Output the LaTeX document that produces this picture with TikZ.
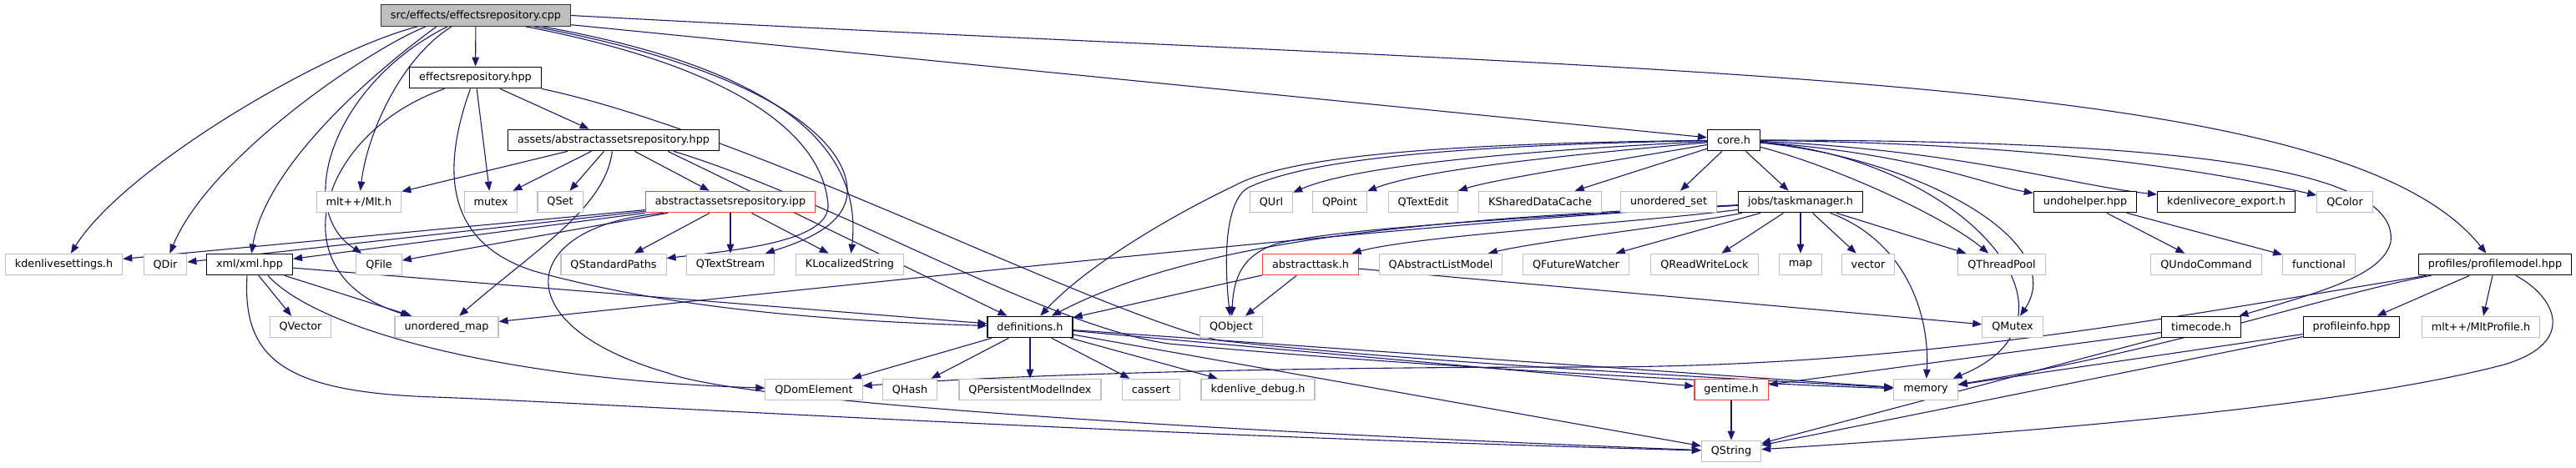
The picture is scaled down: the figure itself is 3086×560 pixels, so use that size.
\documentclass[tikz,border=0pt]{standalone}
\usepackage{fontspec}
\setmainfont{DejaVu Sans}
\usepackage{xcolor}
\usepackage{tikz}
\usetikzlibrary{arrows.meta, backgrounds}
\definecolor{edgeblue}{RGB}{25,25,112}
\definecolor{grey75}{RGB}{191,191,191}
\definecolor{truncred}{RGB}{255,64,64}

\begin{document}
\begin{tikzpicture}[
  x=1pt, y=-1pt,
  box/.style={draw, rectangle, minimum height=25.5pt, inner xsep=11.5pt,
              inner ysep=0pt, fill=white, font=\fontsize{12.8}{15}\selectfont},
  root/.style={box, fill=grey75, draw=black!80, line width=1.3pt},
  doc/.style={box, draw=black, line width=1.2pt},
  trunc/.style={box, draw=truncred, line width=1.2pt},
  leaf/.style={box, draw=grey75, line width=1.1pt},
  inc/.style={draw=edgeblue, line width=1.1pt,
              -{Triangle[length=11pt, width=8.5pt]}},
]
\useasboundingbox (0,0) rectangle (3086,560);

% Top of the include tree
\node[root] (cpp) at (570,18.5) {src/effects/effectsrepository.cpp};
\node[doc] (erhpp) at (569.5,93) {effectsrepository.hpp};
\node[doc] (aahpp) at (735,168) {assets/abstractassetsrepository.hpp};
\node[doc] (core) at (2077,168) {core.h};

% Row 3
\node[leaf] (mlt) at (430,242) {mlt++/Mlt.h};
\node[leaf] (mutex) at (588,242) {mutex};
\node[leaf] (qset) at (671,242) {QSet};
\node[trunc] (ipp) at (875,242) {abstractassetsrepository.ipp};
\node[leaf] (qurl) at (1523,242) {QUrl};
\node[leaf] (qpoint) at (1605,242) {QPoint};
\node[leaf] (qtextedit) at (1705,242) {QTextEdit};
\node[leaf] (kshared) at (1845,242) {KSharedDataCache};
\node[leaf] (uset) at (1999,242) {unordered\_set};
\node[doc] (taskmgr) at (2157,242) {jobs/taskmanager.h};
\node[doc] (undo) at (2498,242) {undohelper.hpp};
\node[doc] (kcexport) at (2667,242) {kdenlivecore\_export.h};
\node[leaf] (qcolor) at (2809,242) {QColor};

% Row 4
\node[leaf] (kset) at (76.5,317) {kdenlivesettings.h};
\node[leaf] (qdir) at (198,317) {QDir};
\node[doc] (xml) at (299,317) {xml/xml.hpp};
\node[leaf] (qfile) at (454,317) {QFile};
\node[leaf] (qstdpaths) at (735,317) {QStandardPaths};
\node[leaf] (qtextstream) at (875,317) {QTextStream};
\node[leaf] (klocal) at (1018,317) {KLocalizedString};
\node[trunc] (atask) at (1570,317) {abstracttask.h};
\node[leaf] (qalm) at (1726,317) {QAbstractListModel};
\node[leaf] (qfw) at (1888,317) {QFutureWatcher};
\node[leaf] (qrwl) at (2042,317) {QReadWriteLock};
\node[leaf] (map) at (2157,317) {map};
\node[leaf] (vector) at (2238,317) {vector};
\node[leaf] (qtp) at (2398,317) {QThreadPool};
\node[leaf] (qundo) at (2643,317) {QUndoCommand};
\node[leaf] (functional) at (2778,317) {functional};
\node[doc] (profmodel) at (2989,317) {profiles/profilemodel.hpp};

% Row 5
\node[leaf] (qvector) at (360,392) {QVector};
\node[leaf] (umap) at (535,392) {unordered\_map};
\node[doc] (defs) at (1234,392) {definitions.h};
\node[leaf] (qobject) at (1475,392) {QObject};
\node[leaf] (qmutex) at (2411,392) {QMutex};
\node[doc] (timecode) at (2637,392) {timecode.h};
\node[doc] (profinfo) at (2817,392) {profileinfo.hpp};
\node[leaf] (mltprof) at (2972,392) {mlt++/MltProfile.h};

% Row 6 and 7
\node[leaf] (qdom) at (975,467) {QDomElement};
\node[leaf] (qhash) at (1090,467) {QHash};
\node[leaf] (qpmi) at (1234,467) {QPersistentModelIndex};
\node[leaf] (cassert) at (1379,467) {cassert};
\node[leaf] (kdebug) at (1507,467) {kdenlive\_debug.h};
\node[trunc] (gentime) at (2074,467) {gentime.h};
\node[leaf] (memory) at (2307,467) {memory};
\node[leaf] (qstring) at (2074,541) {QString};

\begin{scope}[on background layer]
\fill[white] (0,0) rectangle (3086,560);

% effectsrepository.cpp
\draw[inc] (cpp) -- (erhpp);
\draw[inc] ([xshift=-70]cpp.south) .. controls (390,60) and (150,200) .. (kset);
\draw[inc] ([xshift=-60]cpp.south) .. controls (440,60) and (250,190) .. (qdir);
\draw[inc] ([xshift=-47]cpp.south) .. controls (470,70) and (320,190) .. (xml);
\draw[inc] ([xshift=-34]cpp.south) .. controls (400,100) and (350,250) .. (qfile);
\draw[inc] ([xshift=-29]cpp.south) .. controls (480,70) and (440,160) .. (mlt);
\draw[inc] (cpp) -- (core);
\draw[inc] (cpp.east) .. controls (2000,90) and (2800,80) .. (profmodel);
\draw[inc] ([xshift=80]cpp.south) .. controls (920,80) and (1035,170) .. (klocal);
\draw[inc] ([xshift=70]cpp.south) .. controls (900,80) and (1010,160) .. (1015,225)
  .. controls (1018,270) and (960,290) .. (qtextstream);
\draw[inc] ([xshift=60]cpp.south) .. controls (880,80) and (985,160) .. (992,245)
  .. controls (995,290) and (880,300) .. (qstdpaths);

% effectsrepository.hpp
\draw[inc] (erhpp) -- (aahpp);
\draw[inc] (erhpp) -- (mutex);
\draw[inc] ([xshift=-37]erhpp.south) .. controls (380,160) and (330,330) .. (umap);
\draw[inc] ([xshift=-6]erhpp.south) .. controls (530,200) and (530,290) .. (640,325)
  .. controls (800,370) and (1000,385) .. (defs);
\draw[inc] (erhpp.south east) .. controls (900,160) and (1300,370) .. (1460,408)
  .. controls (1700,435) and (2100,455) .. (memory);

% abstractassetsrepository.hpp
\draw[inc] (aahpp) -- (mlt);
\draw[inc] (aahpp) -- (mutex);
\draw[inc] (aahpp) -- (qset);
\draw[inc] (aahpp) -- (ipp);
\draw[inc] (aahpp) .. controls (725,250) and (640,300) .. (umap);
\draw[inc] ([xshift=65]aahpp.south) -- (defs);
\draw[inc] ([xshift=72]aahpp.south) .. controls (1000,240) and (1250,390) .. (1400,412)
  .. controls (1700,440) and (2100,460) .. (memory);

% abstractassetsrepository.ipp
\draw[inc] (ipp) -- (kset);
\draw[inc] (ipp) -- (qdir);
\draw[inc] (ipp) -- (xml);
\draw[inc] (ipp) -- (qfile);
\draw[inc] (ipp) -- (qstdpaths);
\draw[inc] (ipp) -- (qtextstream);
\draw[inc] (ipp) -- (klocal);
\draw[inc] ([xshift=-80]ipp.south) .. controls (620,270) and (600,390) .. (800,447)
  .. controls (880,480) and (1400,515) .. (qstring);

% xml.hpp
\draw[inc] (xml) -- (qvector);
\draw[inc] (xml) -- (umap);
\draw[inc] (xml) -- (defs);
\draw[inc] ([xshift=22]xml.south) .. controls (380,395) and (600,455) .. (qdom);
\draw[inc] ([xshift=-3]xml.south) .. controls (290,430) and (340,470) .. (520,476)
  .. controls (700,482) and (1300,520) .. (qstring);

% definitions.h
\draw[inc] (defs) -- (qdom);
\draw[inc] (defs) -- (qhash);
\draw[inc] (defs) -- (qpmi);
\draw[inc] (defs) -- (cassert);
\draw[inc] (defs) -- (kdebug);
\draw[inc] (defs) -- (gentime);
\draw[inc] (defs) -- (memory);
\draw[inc] (defs) -- (qstring);

% core.h
\draw[inc] (core) .. controls (1800,182) and (1620,200) .. (qurl);
\draw[inc] (core) .. controls (1850,188) and (1700,205) .. (qpoint);
\draw[inc] (core) .. controls (1920,195) and (1790,215) .. (qtextedit);
\draw[inc] (core) -- (kshared);
\draw[inc] (core) -- (uset);
\draw[inc] (core) -- (taskmgr);
\draw[inc] (core) .. controls (1700,172) and (1540,190) .. (1480,222)
  .. controls (1400,260) and (1300,320) .. (defs);
\draw[inc] (core) .. controls (1700,175) and (1560,195) .. (1495,225)
  .. controls (1470,240) and (1465,300) .. (qobject);
\draw[inc] (core) .. controls (2300,185) and (2380,222) .. (undo);
\draw[inc] (core) .. controls (2350,180) and (2480,222) .. (kcexport);
\draw[inc] (core) .. controls (2450,172) and (2650,205) .. (qcolor);
\draw[inc] (core) .. controls (2600,168) and (2875,200) .. (2864,290)
  .. controls (2855,330) and (2780,350) .. (timecode);
\draw[inc] (core) .. controls (2200,200) and (2330,260) .. (qtp);
\draw[inc] (core) .. controls (2300,190) and (2480,290) .. (qmutex);
\draw[inc] (core) .. controls (2350,190) and (2520,380) .. (memory);

% jobs/taskmanager.h
\draw[inc] (taskmgr) .. controls (1950,268) and (1700,282) .. (atask);
\draw[inc] (taskmgr) .. controls (2000,272) and (1850,288) .. (qalm);
\draw[inc] (taskmgr) -- (qfw);
\draw[inc] (taskmgr) -- (qrwl);
\draw[inc] (taskmgr) -- (map);
\draw[inc] (taskmgr) -- (vector);
\draw[inc] (taskmgr) -- (qtp);
\draw[inc] (taskmgr) .. controls (2285,290) and (2312,380) .. (memory);
\draw[inc] (taskmgr) .. controls (1800,262) and (1600,275) .. (1530,292)
  .. controls (1490,305) and (1478,330) .. (qobject);
\draw[inc] (taskmgr) .. controls (1750,262) and (1450,280) .. (defs);
\draw[inc] (taskmgr) .. controls (1800,262) and (1500,290) .. (umap);

% abstracttask.h
\draw[inc] (atask) -- (defs);
\draw[inc] (atask) -- (qobject);
\draw[inc] (atask) -- (qmutex);

% undohelper, gentime, timecode
\draw[inc] (undo) -- (qundo);
\draw[inc] (undo) -- (functional);
\draw[inc] (gentime) -- (qstring);
\draw[inc] (timecode) -- (gentime);
\draw[inc] (timecode) -- (qstring);

% profiles
\draw[inc] (profinfo) -- (memory);
\draw[inc] (profinfo) -- (qstring);
\draw[inc] (profmodel) -- (profinfo);
\draw[inc] (profmodel) -- (mltprof);
\draw[inc] (profmodel) .. controls (2800,350) and (2600,420) .. (memory);
\draw[inc] (profmodel) .. controls (2600,380) and (2300,440) .. (1900,440)
  .. controls (1500,440) and (1200,450) .. (qdom);
\draw[inc] (profmodel) .. controls (3060,355) and (3090,410) .. (3000,437)
  .. controls (2800,490) and (2400,520) .. (qstring);
\end{scope}
\end{tikzpicture}
\end{document}
